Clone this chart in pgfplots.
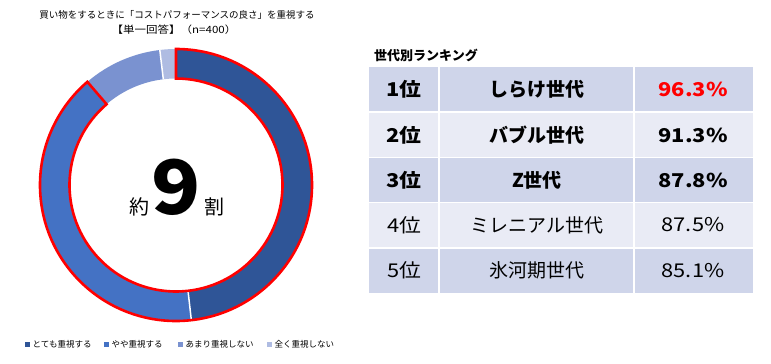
\documentclass[border=0pt]{standalone}
\usepackage{pgfplots}
\pgfplotsset{compat=1.18}
\usepackage{fontspec}
\setmainfont{Noto Sans CJK JP}
\definecolor{c1}{HTML}{2F5597}
\definecolor{c2}{HTML}{4472C4}
\definecolor{c3}{HTML}{7A92D0}
\definecolor{c4}{HTML}{AFBCE2}
\definecolor{rowD}{HTML}{CFD5EA}
\definecolor{rowL}{HTML}{E9EBF5}
\definecolor{hl}{HTML}{FF0000}
% donut values (%): とても, やや, あまり, 全く
\def\va{48.2}\def\vb{40.5}\def\vc{9.4}\def\vd{1.9}
\pgfmathsetmacro{\aA}{90}
\pgfmathsetmacro{\aB}{90-3.6*\va}
\pgfmathsetmacro{\aC}{\aB-3.6*\vb}
\pgfmathsetmacro{\aD}{\aC-3.6*\vc}
\pgfmathsetmacro{\aE}{\aD-3.6*\vd}
\def\R{136pt}\def\r{106.5pt}\def\T{29.5pt}
\begin{document}
\begin{tikzpicture}
\begin{axis}[width=771pt,height=364pt,scale only axis,
  xmin=0,xmax=771,ymin=0,ymax=364,y dir=reverse,hide axis,clip=false]
\addplot[draw=none] coordinates {(0,0) (771,364)};
% segments
\fill[c1] (axis cs:176,185) ++(\aA:\R) arc[start angle=\aA,end angle=\aB,radius=\R] -- ++(\aB:-\T) arc[start angle=\aB,end angle=\aA,radius=\r] -- cycle;
\fill[c2] (axis cs:176,185) ++(\aB:\R) arc[start angle=\aB,end angle=\aC,radius=\R] -- ++(\aC:-\T) arc[start angle=\aC,end angle=\aB,radius=\r] -- cycle;
\fill[c3] (axis cs:176,185) ++(\aC:\R) arc[start angle=\aC,end angle=\aD,radius=\R] -- ++(\aD:-\T) arc[start angle=\aD,end angle=\aC,radius=\r] -- cycle;
\fill[c4] (axis cs:176,185) ++(\aD:\R) arc[start angle=\aD,end angle=\aE,radius=\R] -- ++(\aE:-\T) arc[start angle=\aE,end angle=\aD,radius=\r] -- cycle;
% separators
\draw[white,line width=1.5pt] (axis cs:176,185) ++(\aB:\r) -- ++(\aB:\T);
\draw[white,line width=1.5pt] (axis cs:176,185) ++(\aC:\r) -- ++(\aC:\T);
\draw[white,line width=1.5pt] (axis cs:176,185) ++(\aD:\r) -- ++(\aD:\T);
\draw[white,line width=1.5pt] (axis cs:176,185) ++(\aE:\r) -- ++(\aE:\T);
% red outline
\draw[hl,line width=2.6pt,line join=miter] (axis cs:176,185) ++(\aA:\R) arc[start angle=\aA,end angle=\aC,radius=\R] -- ++(\aC:-\T) arc[start angle=\aC,end angle=\aA,radius=\r] -- cycle;
% centre text
\node[font=\fontsize{20}{20}\selectfont] at (axis cs:139,207) {約};
\node[font=\fontsize{75}{75}\selectfont\bfseries,xscale=1.08] at (axis cs:176,187) {9};
\node[font=\fontsize{20}{20}\selectfont] at (axis cs:214,207) {割};
% title
\node[font=\fontsize{9.5}{10}\selectfont] at (axis cs:177,15) {買い物をするときに「コストパフォーマンスの良さ」を重視する};
\node[font=\fontsize{10}{10}\selectfont,xscale=1.15] at (axis cs:174,30) {【単一回答】（n=400）};
% legend
\fill[c1] (axis cs:24.5,341.5) rectangle (axis cs:30,347);
\node[anchor=west,font=\fontsize{8.5}{9}\selectfont,inner sep=0pt] at (axis cs:32.5,344.5) {とても重視する};
\fill[c2] (axis cs:103.5,341.5) rectangle (axis cs:109,347);
\node[anchor=west,font=\fontsize{8.5}{9}\selectfont,inner sep=0pt] at (axis cs:111.5,344.5) {やや重視する};
\fill[c3] (axis cs:177.5,341.5) rectangle (axis cs:183,347);
\node[anchor=west,font=\fontsize{8.5}{9}\selectfont,inner sep=0pt] at (axis cs:185.5,344.5) {あまり重視しない};
\fill[c4] (axis cs:266.5,341.5) rectangle (axis cs:272,347);
\node[anchor=west,font=\fontsize{8.5}{9}\selectfont,inner sep=0pt] at (axis cs:274.5,344.5) {全く重視しない};
% ranking table
\node[anchor=west,font=\fontsize{13}{13}\selectfont\bfseries,inner sep=0pt] at (axis cs:374,55) {世代別ランキング};
\fill[rowD] (axis cs:369,67) rectangle (axis cs:753,112);
\fill[rowL] (axis cs:369,112) rectangle (axis cs:753,157.5);
\fill[rowD] (axis cs:369,157.5) rectangle (axis cs:753,202.5);
\fill[rowL] (axis cs:369,202.5) rectangle (axis cs:753,248);
\fill[rowD] (axis cs:369,248) rectangle (axis cs:753,293);
\draw[white,line width=1.3pt] (axis cs:369,112) -- (axis cs:753,112);
\draw[white,line width=1.3pt] (axis cs:369,157.5) -- (axis cs:753,157.5);
\draw[white,line width=1.3pt] (axis cs:369,202.5) -- (axis cs:753,202.5);
\draw[white,line width=1.3pt] (axis cs:369,248) -- (axis cs:753,248);
\draw[white,line width=1.3pt] (axis cs:439,67) -- (axis cs:439,293);
\draw[white,line width=1.3pt] (axis cs:634,67) -- (axis cs:634,293);
\tikzset{tb/.style={font=\fontsize{19}{19}\selectfont\bfseries},tn/.style={font=\fontsize{19}{19}\selectfont},pc/.style={xscale=1.15}}
\node[tb,pc] at (axis cs:404,89.5) {1位};
\node[tb] at (axis cs:537,89.5) {しらけ世代};
\node[tb,pc,text=hl] at (axis cs:693,89.5) {96.3\%};
\node[tb,pc] at (axis cs:404,135) {2位};
\node[tb] at (axis cs:537,135) {バブル世代};
\node[tb,pc] at (axis cs:693,135) {91.3\%};
\node[tb,pc] at (axis cs:404,180) {3位};
\node[tb] at (axis cs:537,180) {Z世代};
\node[tb,pc] at (axis cs:693,180) {87.8\%};
\node[tn,pc] at (axis cs:404,225) {4位};
\node[tn] at (axis cs:537,225) {ミレニアル世代};
\node[tn,pc] at (axis cs:693,225) {87.5\%};
\node[tn,pc] at (axis cs:404,270.5) {5位};
\node[tn] at (axis cs:537,270.5) {氷河期世代};
\node[tn,pc] at (axis cs:693,270.5) {85.1\%};
\end{axis}
\end{tikzpicture}
\end{document}
